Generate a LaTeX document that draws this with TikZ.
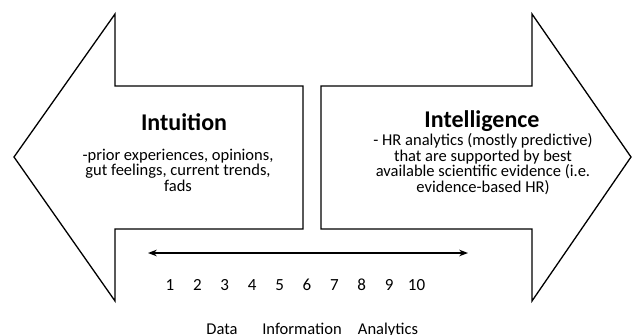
\documentclass[tikz,border=0pt]{standalone}
\usepackage{fontspec}
\setmainfont{Carlito}
\usetikzlibrary{arrows.meta,positioning}

\begin{document}
\begin{tikzpicture}[x=1pt,y=-1pt,>=Stealth,
  bigarrow/.style={draw=black,line width=1.3pt,fill=white,line join=miter},
  title/.style={font=\bfseries\fontsize{24}{28}\selectfont},
  body/.style={align=center,font=\fontsize{16.5}{15.5}\selectfont,inner sep=0pt},
  tick/.style={font=\fontsize{17}{19}\selectfont,inner sep=0pt},
  stage/.style={font=\fontsize{16.5}{19}\selectfont,inner sep=0pt}]
  \useasboundingbox (0,0) rectangle (633,335);
  % left arrow
  \draw[bigarrow] (14,157) -- (115,14) -- (115,86) -- (303,86) -- (303,229)
    -- (115,229) -- (115,301) -- cycle;
  % right arrow
  \draw[bigarrow] (631,157) -- (532,14) -- (532,86) -- (321,86) -- (321,229)
    -- (532,229) -- (532,301) -- cycle;
  % titles and descriptions (base = last line)
  \node[title] (intuition) at (184,122) {Intuition};
  \node[body,anchor=base] (intuitiontxt) at (178,191)
    {-prior experiences, opinions,\\gut feelings, current trends,\\fads};
  \node[title] (intelligence) at (482,121) {Intelligence};
  \node[body,anchor=base] (intelligencetxt) at (483,192)
    {- HR analytics (mostly predictive)\\that are supported by best\\available scientific evidence (i.e.\\evidence-based HR)};
  % scale
  \coordinate (sL) at (148,253);
  \coordinate (sR) at (468,253);
  \draw[<->,line width=1.3pt] (sL) -- (sR);
  \foreach \n [count=\i from 0] in {1,...,10}
    \node[tick] (n\n) at ({170+27.4*\i},285) {\n};
  \node[stage,anchor=base] (data) at (222,334) {Data};
  \node[stage,anchor=base] (info) at (302,334) {Information};
  \node[stage,anchor=base] (analytics) at (388,334) {Analytics};
\end{tikzpicture}
\end{document}
